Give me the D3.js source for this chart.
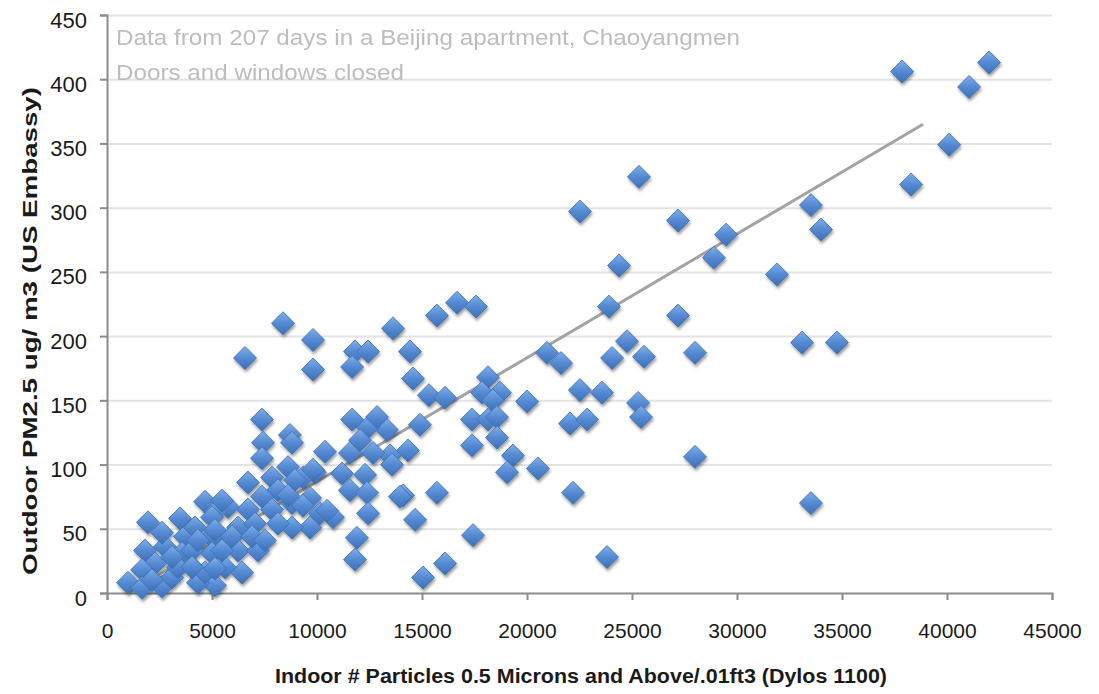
<!DOCTYPE html>
<html>
<head>
<meta charset="utf-8">
<script src="https://cdn.jsdelivr.net/npm/d3@7"></script>
<style>
  body { margin: 0; background: #fff; }
  svg { display: block; font-family: "Liberation Sans", Arial, sans-serif; }
</style>
</head>
<body>
<svg id="chart"></svg>
<script>
// indoor particle counts (x) and outdoor PM2.5 (y)
const indoorX = [
  37860, 42000, 41050, 40100, 38290, 33520, 34000, 31900, 33100, 34760, 33520,
  25330, 22520, 27190, 29480, 28900, 24380, 23900, 27190, 16670, 15710, 17570,
  24760, 24050, 25570, 28000, 20950, 21620, 14430, 14570, 15330, 16100, 18140,
  18710, 17860, 18380, 20000, 22520, 23570, 25290, 25430, 14900, 17380, 18140,
  18570, 22050, 22860, 14330, 17380, 18570, 19330, 19050, 20520, 28000, 14100,
  15710, 22190, 14670, 17430, 23810, 16100, 15050, 13620, 13330, 13480,
  8380, 9810, 6570, 9810, 11810, 12430, 11670, 7380, 8710, 7430, 7380,
  10380, 11570, 11670, 12430, 12860, 12670, 12050, 13570, 9900, 11190, 12290,
  9330, 11570, 12380, 13950, 9670, 10760, 10140, 9670, 12430, 11900, 11810, 8810,
  1950, 3480, 4670, 6710, 7860, 8620, 8950, 8140, 7380, 6710, 7860, 8810,
  5760, 6240, 7050, 8810, 5140, 5000, 6240, 7190, 3710, 4190, 5000, 6430,
  5140, 4190, 3570, 2760, 2620, 1810, 2290, 1670, 1000, 1670, 2620, 3100,
  3380, 4330, 4670, 5620, 5480, 2140, 4050, 5140, 9810, 8620,
  5000, 4330, 3100, 4050, 5140, 5950, 5480, 6900, 7520, 8140, 9330, 10480
];
const outdoorY = [
  406, 413, 394, 349, 318, 302, 283, 248, 195, 195, 70,
  324, 297, 290, 279, 261, 255, 223, 216, 226, 216, 223,
  196, 183, 184, 187, 187, 179, 188, 167, 154, 152, 168,
  156, 156, 150, 149, 158, 156, 148, 137, 131, 135, 135,
  137, 132, 135, 111, 115, 121, 107, 94, 97, 106, 76,
  78, 78, 57, 45, 28, 23, 12, 206, 127, 107,
  210, 197, 183, 174, 188, 188, 176, 135, 123, 117, 105,
  110, 109, 135, 129, 137, 109, 119, 100, 94, 93, 92,
  90, 80, 78, 75, 74, 59, 62, 51, 62, 43, 26, 117,
  55, 58, 71, 86, 90, 98, 88, 80, 75, 65, 65, 70,
  67, 51, 54, 51, 63, 44, 33, 33, 44, 51, 31, 16,
  6, 18, 31, 36, 47, 33, 23, 18, 8, 4, 5, 12,
  20, 8, 16, 20, 33, 10, 33, 19, 96, 76,
  59, 41, 28, 20, 49, 44, 72, 44, 41, 54, 68, 64
];

// linear trend line end points
const trendX = [1000, 38860];
const trendY = [0, 365];

const xTicks = [0, 5000, 10000, 15000, 20000, 25000, 30000, 35000, 40000, 45000];
const yTicks = [0, 50, 100, 150, 200, 250, 300, 350, 400, 450];

const noteLines = [
  "Data from 207 days in a Beijing apartment, Chaoyangmen",
  "Doors and windows closed"
];

const svgWidth = 1099, svgHeight = 694;
const margin = { top: 15, right: 47, bottom: 101, left: 107 };
const width = svgWidth - margin.left - margin.right;
const height = svgHeight - margin.top - margin.bottom;

let svg = d3.select("#chart")
    .attr("width", svgWidth)
    .attr("height", svgHeight);

let defs = svg.append("defs");
let grad = defs.append("linearGradient")
    .attr("id", "diamondFill")
    .attr("x1", 0).attr("y1", 0).attr("x2", 0).attr("y2", 1);
grad.append("stop").attr("offset", "0%").attr("stop-color", "#7eaeea");
grad.append("stop").attr("offset", "50%").attr("stop-color", "#558ad2");
grad.append("stop").attr("offset", "100%").attr("stop-color", "#3c70b8");

let shadow = defs.append("filter")
    .attr("id", "shadow")
    .attr("x", "-50%").attr("y", "-50%")
    .attr("width", "200%").attr("height", "200%");
shadow.append("feDropShadow")
    .attr("dx", 1).attr("dy", 2.5)
    .attr("stdDeviation", 1.6)
    .attr("flood-color", "#000")
    .attr("flood-opacity", 0.4);

let g = svg.append("g")
    .attr("transform", `translate(${margin.left},${margin.top})`);

const x = d3.scaleLinear().domain([0, 45000]).range([0, width]);
const y = d3.scaleLinear().domain([0, 450]).range([height, 0]);

// grid lines
g.append("g")
    .attr("class", "grid")
    .call(d3.axisLeft(y).tickValues(yTicks.slice(1)).tickSize(-width).tickFormat(""))
    .call(s => s.select(".domain").remove())
    .call(s => s.selectAll("line").attr("stroke", "#e3e3e3").attr("stroke-width", 2));

// y axis
let yAxisGroup = g.append("g")
    .call(d3.axisLeft(y).tickValues(yTicks).tickSize(7).tickPadding(13));
yAxisGroup.select(".domain").attr("stroke", "#8c8c8c").attr("stroke-width", 2);
yAxisGroup.selectAll(".tick line").attr("stroke", "#8c8c8c").attr("stroke-width", 2);
yAxisGroup.selectAll("text")
    .attr("fill", "#1a1a1a")
    .style("font-family", "'Liberation Sans Narrow', 'Liberation Sans', sans-serif")
    .style("font-size", "22px")
    .attr("dy", "0.55em");

// x axis
let xAxisGroup = g.append("g")
    .attr("transform", `translate(0,${height})`)
    .call(d3.axisBottom(x).tickValues(xTicks).tickFormat(d3.format("d")).tickSize(7).tickPadding(23));
xAxisGroup.select(".domain").attr("stroke", "#8c8c8c").attr("stroke-width", 2);
xAxisGroup.selectAll(".tick line").attr("stroke", "#8c8c8c").attr("stroke-width", 2);
xAxisGroup.selectAll("text")
    .attr("fill", "#1a1a1a")
    .style("font-family", "'Liberation Sans Narrow', 'Liberation Sans', sans-serif")
    .style("font-size", "21px");

// trend line
g.append("line")
    .attr("x1", x(trendX[0])).attr("y1", y(trendY[0]))
    .attr("x2", x(trendX[1])).attr("y2", y(trendY[1]))
    .attr("stroke", "#a3a3a3")
    .attr("stroke-width", 3);

// diamonds
const pts = indoorX.map((v, i) => ({ indoor: v, outdoor: outdoorY[i] }));
const r = 11.5;
g.append("g")
    .attr("filter", "url(#shadow)")
    .selectAll("path")
    .data(pts)
    .join("path")
    .attr("d", `M0,${-r}L${r},0L0,${r}L${-r},0Z`)
    .attr("transform", d => `translate(${x(d.indoor)},${y(d.outdoor)})`)
    .attr("fill", "url(#diamondFill)")
    .attr("stroke", "#3b6cae")
    .attr("stroke-width", 0.8);

// note text
g.selectAll(".note")
    .data(noteLines)
    .join("text")
    .attr("class", "note")
    .attr("x", 9)
    .attr("y", (d, i) => 30 + i * 34.5)
    .attr("fill", "#bdbdbd")
    .style("font-size", "22px")
    .attr("textLength", (d, i) => i === 0 ? 624 : 288)
    .attr("lengthAdjust", "spacingAndGlyphs")
    .text(d => d);

// axis titles
svg.append("text")
    .attr("x", 581)
    .attr("y", 683)
    .attr("text-anchor", "middle")
    .attr("fill", "#1a1a1a")
    .style("font-size", "20px")
    .style("font-weight", "bold")
    .attr("textLength", 612)
    .attr("lengthAdjust", "spacingAndGlyphs")
    .text("Indoor # Particles 0.5 Microns and Above/.01ft3 (Dylos 1100)");

svg.append("text")
    .attr("transform", "translate(37,331) rotate(-90)")
    .attr("text-anchor", "middle")
    .attr("fill", "#1a1a1a")
    .style("font-size", "21px")
    .style("font-weight", "bold")
    .attr("textLength", 488)
    .attr("lengthAdjust", "spacingAndGlyphs")
    .text("Outdoor PM2.5 ug/ m3 (US Embassy)");
</script>
</body>
</html>
